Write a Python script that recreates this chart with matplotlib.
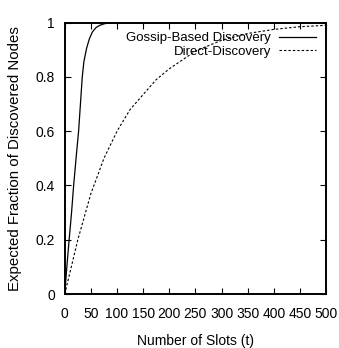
import matplotlib
matplotlib.use("Agg")
import matplotlib.pyplot as plt

# Discovery curves: fraction of nodes discovered vs. number of slots
gossip_t = [0, 4, 8.4, 13, 17, 22.6, 26.5, 30, 33.5, 36.6, 41.7, 47, 53, 60, 67, 76, 86, 100, 500]
gossip_y = [0, 0.1, 0.2, 0.3, 0.4, 0.52, 0.6, 0.7, 0.8, 0.856, 0.905, 0.94, 0.966, 0.982,
            0.99, 0.996, 0.999, 1.0, 1.0]

direct_t = [0, 25, 50, 75, 100, 125, 150, 175, 200, 250, 300, 350, 400, 450, 500]
direct_y = [0, 0.2, 0.37, 0.5, 0.6, 0.68, 0.735, 0.79, 0.83, 0.895, 0.935, 0.96, 0.975,
            0.985, 0.99]

series_labels = ["Gossip-Based Discovery", "Direct-Discovery"]
x_ticks = [0, 50, 100, 150, 200, 250, 300, 350, 400, 450, 500]
y_ticks = [0, 0.2, 0.4, 0.6, 0.8, 1]
y_tick_labels = ["0", "0.2", "0.4", "0.6", "0.8", "1"]

font = "Liberation Sans"

fig = plt.figure(figsize=(3.39, 3.48), dpi=100)
ax = fig.add_axes([0.191, 0.155, 0.771, 0.78])

ax.plot(gossip_t, gossip_y, color="black", lw=0.9, label=series_labels[0])
ax.plot(direct_t, direct_y, color="black", lw=0.8, dashes=(2.2, 1.8), label=series_labels[1])

ax.set_xlim(0, 500)
ax.set_ylim(0, 1)
ax.set_xticks(x_ticks)
ax.set_yticks(y_ticks)
ax.set_yticklabels(y_tick_labels)
ax.tick_params(direction="in", length=4.5, width=0.8, top=True, right=True,
               labelsize=10)
ax.tick_params(axis="x", pad=9)
ax.tick_params(axis="y", pad=7)
for lab in ax.get_xticklabels() + ax.get_yticklabels():
    lab.set_fontfamily(font)
for sp in ax.spines.values():
    sp.set_linewidth(1.4)

ax.set_xlabel("Number of Slots (t)", fontfamily=font, fontsize=10, labelpad=10)
ax.set_ylabel("Expected Fraction of Discovered Nodes", fontfamily=font,
              fontsize=10.8, labelpad=10)

leg = ax.legend(loc="upper right", bbox_to_anchor=(0.98, 0.985), frameon=False,
                markerfirst=False, handlelength=2.8, handletextpad=0.6,
                labelspacing=0.12, borderaxespad=0.0,
                prop={"family": font, "size": 9.5})

fig.savefig("out.png", dpi=100)
